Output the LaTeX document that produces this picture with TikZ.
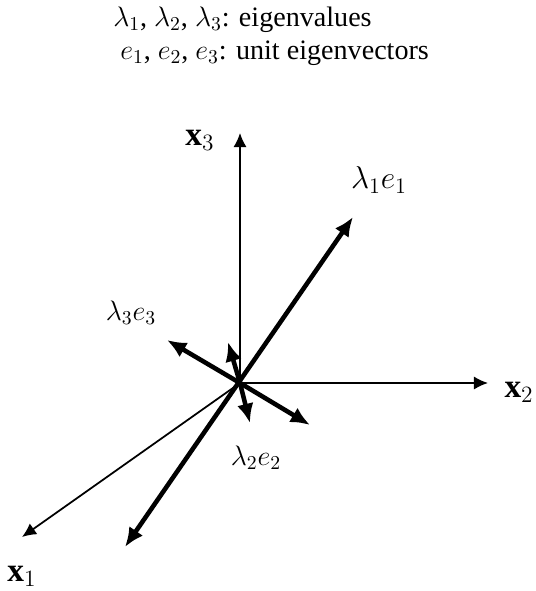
\RequirePackage{fix-cm}
\documentclass[tikz,border=0pt]{standalone}
\usepackage{amsmath}
\usepackage{fontspec}
\setmainfont{Liberation Serif}
\usetikzlibrary{arrows.meta}

\begin{document}
\begin{tikzpicture}[x=0.02cm, y=-0.02cm,
        every node/.style={font=\fontsize{16}{19}\selectfont, inner sep=0pt},
        axis/.style={line width=1pt, -{Latex[length=8pt, width=7.5pt]}},
        vec/.style={line width=2.6pt, -{Latex[length=11pt, width=9.5pt]}},
        big/.style={font=\fontsize{18}{21}\selectfont},
        axlabel/.style={font=\fontsize{19}{22}\selectfont}]
      \useasboundingbox (0,0) rectangle (535,591);
      \node[anchor=west] (vals) at (113,20) {$\lambda_1$, $\lambda_2$, $\lambda_3$: eigenvalues};
      \node[anchor=west] (vecs) at (120,53) {$e_1$, $e_2$, $e_3$: unit eigenvectors};
      \coordinate (O) at (240,383);
      \coordinate (x1end) at (22,537);
      \coordinate (x2end) at (488,383);
      \coordinate (x3end) at (240,133);
      \coordinate (e1up) at (353,217);
      \coordinate (e1down) at (125,547);
      \coordinate (e3end) at (167,340);
      \coordinate (upend) at (228,342);
      \coordinate (downend) at (250,423);
      \coordinate (e2end) at (310,425);
      \draw[axis] (O) -- (x1end);
      \draw[axis] (O) -- (x2end);
      \draw[axis] (O) -- (x3end);
      \node[axlabel] (x1) at (22,576) {$\mathbf{x}_1$};
      \node[axlabel] (x2) at (519,392) {$\mathbf{x}_2$};
      \node[axlabel] (x3) at (200,140) {$\mathbf{x}_3$};
      \draw[vec, {Latex[length=11pt, width=9.5pt]}-{Latex[length=11pt, width=9.5pt]}] (e1down) -- (e1up);
      \draw[vec] (O) -- (e3end);
      \draw[vec] (O) -- (upend);
      \draw[vec] (O) -- (downend);
      \draw[vec] (O) -- (e2end);
      \node[big] (l1) at (379,180) {$\lambda_1 e_1$};
      \node (l3) at (131,313) {$\lambda_3 e_3$};
      \node (l2) at (256,458) {$\lambda_2 e_2$};
    \end{tikzpicture}
\end{document}
